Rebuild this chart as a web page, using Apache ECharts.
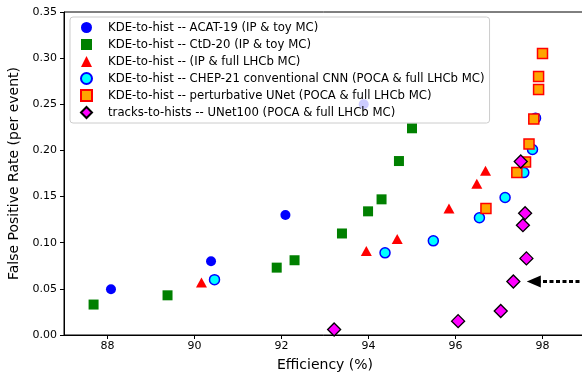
<!DOCTYPE html>
<html>
<head>
<meta charset="utf-8">
<script src="https://cdn.jsdelivr.net/npm/echarts@6/dist/echarts.min.js"></script>
<style>
  html, body { margin: 0; padding: 0; background: #fff; }
  #chart { width: 582px; height: 375px; }
</style>
</head>
<body>
<div id="chart"></div>
<script>
// ---------------- DATA ----------------
// [efficiency %, false positive rate per event]
const acat19 = [[88.08, 0.0495], [90.38, 0.080], [92.09, 0.130], [93.89, 0.250]];
const ctd20 = [[87.68, 0.033], [89.38, 0.043], [91.89, 0.073], [92.30, 0.081],
               [93.39, 0.110], [93.99, 0.134], [94.30, 0.147], [94.70, 0.1885], [95.00, 0.224]];
const ipFull = [[90.16, 0.057], [93.95, 0.091], [94.66, 0.104], [95.85, 0.137],
                [96.49, 0.164], [96.69, 0.178]];
const chep21 = [[90.46, 0.060], [94.38, 0.089], [95.49, 0.102], [96.55, 0.127],
                [97.14, 0.149], [97.57, 0.176], [97.77, 0.201], [97.84, 0.235]];
const pertUNet = [[96.70, 0.137], [97.41, 0.176], [97.61, 0.1875], [97.69, 0.207],
                  [97.80, 0.234], [97.91, 0.266], [97.91, 0.280], [98.00, 0.305]];
const unet100 = [[93.21, 0.006], [96.06, 0.015], [97.04, 0.026], [97.33, 0.058],
                 [97.63, 0.083], [97.55, 0.119], [97.60, 0.132], [97.50, 0.188]];

// arrow annotation pointing at the UNet100 point
const arrowFrom = [99.0, 0.058];
const arrowTo = [97.80, 0.058];

const xTicks = [88, 90, 92, 94, 96, 98];

const names = [
    'KDE-to-hist -- ACAT-19 (IP & toy MC)',
    'KDE-to-hist -- CtD-20 (IP & toy MC)',
    'KDE-to-hist -- (IP & full LHCb MC)',
    'KDE-to-hist -- CHEP-21 conventional CNN (POCA & full LHCb MC)',
    'KDE-to-hist -- perturbative UNet (POCA & full LHCb MC)',
    'tracks-to-hists -- UNet100 (POCA & full LHCb MC)'
];

// ---------------- CHART ----------------
const font = 'DejaVu Sans';
let chart = echarts.init(document.getElementById('chart'), null, { renderer: 'canvas' });

chart.setOption({
    animation: false,
    textStyle: { fontFamily: font },
    grid: {
        left: 64, top: 12, right: -4, bottom: 40,
        outerBoundsMode: 'none',
        show: true, borderColor: '#000', borderWidth: 1, backgroundColor: 'transparent'
    },
    legend: {
        orient: 'vertical',
        left: 70, top: 17,
        padding: [4, 5, 4, 10],
        itemWidth: 11, itemHeight: 11, itemGap: 4,
        symbolKeepAspect: true,
        backgroundColor: 'rgba(255,255,255,0.8)',
        borderColor: '#cccccc', borderWidth: 1, borderRadius: 3,
        textStyle: { fontSize: 11.7, lineHeight: 13, color: '#000', fontFamily: font, padding: [0, 0, 0, 11] },
        data: names
    },
    xAxis: {
        type: 'value', min: 87, max: 99,
        name: 'Efficiency (%)', nameLocation: 'middle', nameGap: 23,
        nameTextStyle: { fontSize: 14, color: '#000', fontFamily: font },
        splitLine: { show: false },
        axisLine: { show: true, onZero: false, lineStyle: { color: '#000', width: 1 } },
        axisTick: { show: true, length: 4, customValues: xTicks, lineStyle: { color: '#000' } },
        axisLabel: { customValues: xTicks, fontSize: 11, color: '#000', margin: 6 }
    },
    yAxis: {
        type: 'value', min: 0, max: 0.35, interval: 0.05,
        name: 'False Positive Rate (per event)', nameLocation: 'middle', nameGap: 42,
        nameTextStyle: { fontSize: 14, color: '#000', fontFamily: font },
        splitLine: { show: false },
        axisLine: { show: true, onZero: false, lineStyle: { color: '#000', width: 1 } },
        axisTick: { show: true, length: 4, lineStyle: { color: '#000' } },
        axisLabel: { fontSize: 11, color: '#000', margin: 7, formatter: v => v.toFixed(2) }
    },
    series: [
        {
            name: names[0], type: 'scatter', data: acat19,
            symbol: 'circle', symbolSize: 10, symbolKeepAspect: true,
            itemStyle: { color: '#0000ff', opacity: 1 }
        },
        {
            name: names[1], type: 'scatter', data: ctd20,
            symbol: 'rect', symbolSize: 10, symbolKeepAspect: true,
            itemStyle: { color: '#008000', opacity: 1 }
        },
        {
            name: names[2], type: 'scatter', data: ipFull,
            symbol: 'triangle', symbolSize: [11, 10], symbolKeepAspect: true,
            itemStyle: { color: '#ff0000', opacity: 1 }
        },
        {
            name: names[3], type: 'scatter', data: chep21,
            symbol: 'circle', symbolSize: 10, symbolKeepAspect: true,
            itemStyle: { color: '#00ffff', borderColor: '#0000ff', borderWidth: 1.5, opacity: 1 }
        },
        {
            name: names[4], type: 'scatter', data: pertUNet,
            symbol: 'rect', symbolSize: 10, symbolKeepAspect: true,
            itemStyle: { color: '#ffa500', borderColor: '#ff0000', borderWidth: 1.5, opacity: 1 }
        },
        {
            name: names[5], type: 'scatter', data: unet100,
            symbol: 'diamond', symbolSize: 13, symbolKeepAspect: true,
            itemStyle: { color: '#ff00ff', borderColor: '#000', borderWidth: 1.3, opacity: 1 },
            markLine: {
                silent: true,
                symbol: ['none', 'triangle'],
                symbolSize: [12, 14],
                label: { show: false },
                lineStyle: { color: '#000', width: 3, type: [4, 2.5] },
                itemStyle: { color: '#000' },
                data: [[{ coord: arrowFrom }, { coord: arrowTo }]]
            }
        }
    ]
});
</script>
</body>
</html>
